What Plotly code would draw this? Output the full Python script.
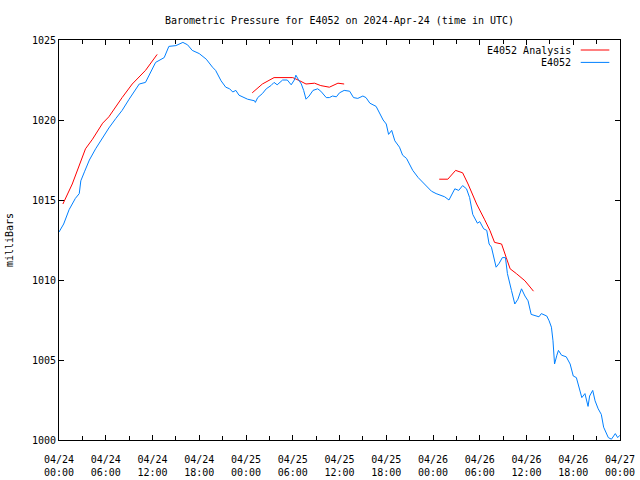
import pandas as pd
import plotly.graph_objects as go

# ---- data (hours after 2024-04-24 00:00 UTC, millibars)
obs_hours = [0.0, 0.6, 1.3, 2.1, 2.6, 2.8, 3.3, 3.9, 4.7, 5.6, 6.4, 7.3, 8.1, 9.0, 9.7,
             10.3, 11.1, 11.8, 12.4, 13.5, 14.1, 15.0, 15.9, 16.5, 17.1, 18.0, 18.9,
             19.7, 20.1, 20.8, 21.4, 21.9, 22.3, 22.7, 23.1, 24.2, 25.1, 25.2, 25.5,
             26.1, 26.6, 27.2, 27.6, 28.0, 28.3, 28.7, 29.3, 29.8, 30.2, 30.4, 30.7,
             31.1, 31.4, 31.7, 32.1, 32.6, 33.2, 33.6, 34.3, 34.7, 35.1, 35.6, 36.0,
             36.6, 37.3, 37.8, 38.35, 39.0, 39.4, 39.9, 40.7, 41.1, 41.6, 42.0, 42.3,
             42.7, 43.1, 43.7, 44.1, 44.6, 45.4, 46.1, 46.7, 47.3, 47.8, 48.4, 48.9,
             49.5, 50.05, 50.8, 51.3, 51.8, 52.3, 52.7, 53.1, 53.7, 54.0, 54.5, 54.9,
             55.2, 55.5, 56.1, 56.5, 56.9, 57.3, 57.55, 58.07, 58.5, 58.9, 59.36, 59.8,
             60.2, 60.6, 61.1, 61.6, 61.9, 62.6, 62.9, 63.2, 63.4, 63.6, 63.9, 64.1,
             64.5, 65.1, 65.6, 66.0, 66.4, 66.8, 67.1, 67.5, 67.9, 68.1, 68.5, 68.8,
             69.2, 69.6, 69.9, 70.5, 70.9, 71.4, 71.7, 72.0]
obs_mb = [1013.0, 1013.5, 1014.4, 1015.1, 1015.4, 1016.2, 1016.8, 1017.5, 1018.2, 1018.9,
          1019.5, 1020.1, 1020.6, 1021.3, 1021.8, 1022.25, 1022.35, 1023.0, 1023.6,
          1023.9, 1024.6, 1024.65, 1024.85, 1024.7, 1024.35, 1024.15, 1023.8, 1023.3,
          1023.1, 1022.45, 1022.05, 1021.95, 1021.75, 1021.85, 1021.55, 1021.3, 1021.2,
          1021.1, 1021.4, 1021.65, 1021.95, 1022.15, 1022.35, 1022.2, 1022.35, 1022.5,
          1022.5, 1022.2, 1022.5, 1022.8, 1022.55, 1022.25, 1021.85, 1021.3, 1021.5,
          1021.85, 1021.95, 1021.8, 1021.4, 1021.4, 1021.5, 1021.45, 1021.7, 1021.85,
          1021.8, 1021.4, 1021.35, 1021.5, 1021.4, 1021.05, 1020.85, 1020.5, 1020.0,
          1019.75, 1019.1, 1019.35, 1018.7, 1018.3, 1017.8, 1017.6, 1016.85, 1016.4,
          1016.1, 1015.75, 1015.55, 1015.4, 1015.3, 1015.2, 1015.0, 1015.7, 1015.6,
          1015.9, 1015.7, 1015.15, 1014.1, 1013.55, 1013.65, 1013.2, 1013.1, 1012.25,
          1012.05, 1010.8, 1011.05, 1011.4, 1011.4, 1010.4, 1009.35, 1008.5, 1008.8,
          1009.45, 1009.0, 1008.7, 1007.85, 1007.75, 1007.7, 1007.9, 1007.75, 1007.45,
          1007.05, 1006.2, 1004.75, 1005.3, 1005.6, 1005.3, 1005.2, 1004.75, 1004.0,
          1003.9, 1003.2, 1002.65, 1002.9, 1002.1, 1002.75, 1003.1, 1002.45, 1001.95,
          1001.6, 1000.8, 1000.15, 1000.05, 1000.4, 1000.15, 1000.3]

ana_hours = [0.5, 1.7, 3.4, 4.3, 5.6, 6.4, 8.1, 9.4, 11.1, 12.6, None,
             24.8, 26.1, 27.6, 30.0, 30.9, 31.7, 32.8, 33.6, 34.7, 35.8, 36.6, None,
             48.8, 49.9, 50.9, 51.8, 52.5, 53.6, 54.6, 55.3, 55.9, 56.8, 57.4, 57.9,
             58.7, 59.8, 60.9]
ana_mb = [1014.75, 1016.0, 1018.2, 1018.8, 1019.8, 1020.2, 1021.4, 1022.25, 1023.1, 1024.1, None,
          1021.7, 1022.25, 1022.65, 1022.65, 1022.45, 1022.25, 1022.3, 1022.15, 1022.05,
          1022.3, 1022.25, None,
          1016.3, 1016.3, 1016.85, 1016.7, 1016.0, 1014.75, 1013.8, 1013.1, 1012.35,
          1012.25, 1011.4, 1010.7, 1010.4, 1009.95, 1009.3]

start = pd.Timestamp("2024-04-24 00:00")
end = pd.Timestamp("2024-04-27 00:00")
obs_t = [start + pd.Timedelta(hours=h) for h in obs_hours]
ana_t = [None if h is None else start + pd.Timedelta(hours=h) for h in ana_hours]

FONT = "DejaVu Sans Mono"
RED = "#ff0000"
BLUE = "#0080ff"

fig = go.Figure()
fig.add_trace(go.Scatter(x=ana_t, y=ana_mb, mode="lines", name="E4052 Analysis",
                         line=dict(color=RED, width=1), connectgaps=False))
fig.add_trace(go.Scatter(x=obs_t, y=obs_mb, mode="lines", name="E4052",
                         line=dict(color=BLUE, width=1)))

axis_common = dict(showline=True, linecolor="black", linewidth=1, mirror="allticks",
                   ticks="inside", ticklen=5, tickcolor="black", showgrid=False,
                   zeroline=False, automargin=False,
                   tickfont=dict(family=FONT, size=10, color="black"))

fig.update_xaxes(type="date", range=[start, end], dtick=6 * 3600 * 1000,
                 tick0=start, tickformat="%m/%d<br>%H:%M", ticklabelstandoff=10,
                 minor=dict(ticks="inside", dtick=3 * 3600 * 1000, ticklen=4,
                            tickcolor="black", showgrid=False),
                 **axis_common)
fig.update_yaxes(range=[1000, 1025], dtick=5, tick0=1000,
                 title=dict(text="milliBars", font=dict(family=FONT, size=10, color="black"),
                            standoff=16),
                 **axis_common)

# legend drawn gnuplot-style: text right-aligned, sample line to its right
legend_rows = [("E4052 Analysis", RED, 0.975), ("E4052", BLUE, 0.944)]
for text, col, yy in legend_rows:
    fig.add_annotation(x=0.917, y=yy, xref="paper", yref="paper", text=text,
                       showarrow=False, xanchor="right", yanchor="middle",
                       font=dict(family=FONT, size=10, color="black"))
    fig.add_shape(type="line", xref="paper", yref="paper", x0=0.930, x1=0.981,
                  y0=yy, y1=yy, line=dict(color=col, width=1))

fig.update_layout(
    width=640, height=480,
    margin=dict(l=59, r=20, t=40, b=40),
    paper_bgcolor="white", plot_bgcolor="white",
    showlegend=False,
    title=dict(text="Barometric Pressure for E4052 on 2024-Apr-24 (time in UTC)",
               xref="paper", x=0.5, xanchor="center", yref="container", y=1 - 20 / 480,
               yanchor="middle", font=dict(family=FONT, size=10, color="black")),
    font=dict(family=FONT, size=10, color="black"),
)

fig.write_html("out.html", config={"displayModeBar": False},
               post_script="document.body.style.margin='0';")
